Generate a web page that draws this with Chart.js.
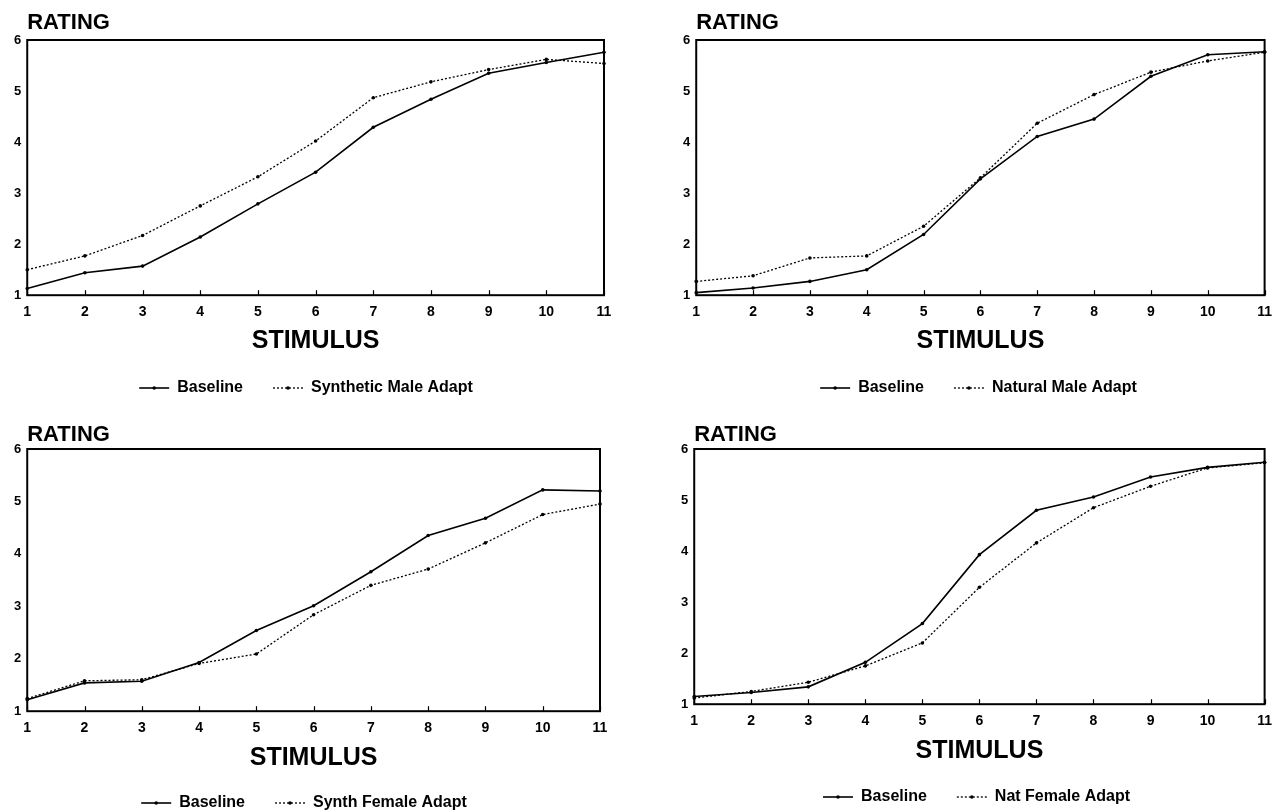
<!DOCTYPE html>
<html>
<head>
<meta charset="utf-8">
<script src="https://cdn.jsdelivr.net/npm/chart.js@4.4.1/dist/chart.umd.min.js"></script>
<style>
  html, body { margin: 0; padding: 0; background: #fff; }
  body { width: 1281px; height: 810px; position: relative; overflow: hidden; }
  .panel { position: absolute; }
</style>
</head>
<body>
<div class="panel" style="left:0;top:0;width:640px;height:405px"><canvas id="chartSynMale"></canvas></div>
<div class="panel" style="left:669px;top:0;width:612px;height:405px"><canvas id="chartNatMale"></canvas></div>
<div class="panel" style="left:0;top:405px;width:640px;height:405px"><canvas id="chartSynFemale"></canvas></div>
<div class="panel" style="left:669px;top:405px;width:612px;height:405px"><canvas id="chartNatFemale"></canvas></div>
<script>
// ===== data =====
const stimulus = [1, 2, 3, 4, 5, 6, 7, 8, 9, 10, 11];
const ratingTicks = [1, 2, 3, 4, 5, 6];

const synMaleBase  = [1.13, 1.44, 1.57, 2.14, 2.79, 3.41, 4.29, 4.84, 5.35, 5.56, 5.76];
const synMaleAdapt = [1.50, 1.77, 2.17, 2.75, 3.32, 4.02, 4.87, 5.18, 5.42, 5.62, 5.54];

const natMaleBase  = [1.05, 1.14, 1.27, 1.50, 2.19, 3.28, 4.11, 4.45, 5.29, 5.71, 5.77];
const natMaleAdapt = [1.27, 1.38, 1.73, 1.77, 2.35, 3.30, 4.37, 4.93, 5.37, 5.59, 5.76];

const synFemaleBase  = [1.22, 1.54, 1.57, 1.93, 2.54, 3.01, 3.66, 4.35, 4.68, 5.22, 5.20];
const synFemaleAdapt = [1.24, 1.58, 1.60, 1.91, 2.09, 2.84, 3.40, 3.71, 4.21, 4.75, 4.95];

const natFemaleBase  = [1.15, 1.23, 1.34, 1.82, 2.58, 3.93, 4.80, 5.06, 5.45, 5.64, 5.74];
const natFemaleAdapt = [1.12, 1.25, 1.43, 1.75, 2.20, 3.29, 4.16, 4.85, 5.27, 5.63, 5.73];

const FONT = "'Liberation Sans', Arial, Helvetica, sans-serif";

Chart.defaults.font.family = FONT;
Chart.defaults.font.weight = 'bold';
Chart.defaults.color = '#000';
Chart.defaults.animation = false;

// frame round the plot, small ticks on the bottom edge, RATING label, legend dots
const framePlugin = {
    id: 'frame',
    afterDraw(chart, args, opts) {
        const { ctx, chartArea: a, scales } = chart;
        ctx.save();
        ctx.strokeStyle = '#000';
        ctx.lineWidth = 2;
        ctx.strokeRect(a.left, a.top, a.right - a.left, a.bottom - a.top);
        ctx.lineWidth = 1.2;
        stimulus.forEach((s, i) => {
            const px = Math.round(scales.x.getPixelForValue(i)) + 0.5;
            ctx.beginPath();
            ctx.moveTo(px, a.bottom);
            ctx.lineTo(px, a.bottom - 5);
            ctx.stroke();
        });
        ctx.fillStyle = '#000';
        ctx.font = 'bold 22px ' + FONT;
        ctx.textBaseline = 'middle';
        ctx.textAlign = 'left';
        ctx.fillText('RATING', a.left, a.top - opts.ratingGap);

        // little marker in the middle of each legend sample line
        (chart.legend.legendHitBoxes || []).forEach(hb => {
            ctx.beginPath();
            ctx.arc(hb.left + 15, hb.top + hb.height / 2, 1.8, 0, Math.PI * 2);
            ctx.fill();
        });
        ctx.restore();
    }
};

function createPanel(canvasId, adaptLabel, baseVals, adaptVals, pad, titlePad) {
    const ctx = document.getElementById(canvasId);
    return new Chart(ctx, {
        type: 'line',
        data: {
            labels: stimulus,
            datasets: [{
                label: 'Baseline',
                data: baseVals,
                borderColor: '#000',
                backgroundColor: '#000',
                borderWidth: 1.6,
                pointRadius: 1.8,
                pointBorderWidth: 0,
                tension: 0
            }, {
                label: adaptLabel,
                data: adaptVals,
                borderColor: '#000',
                backgroundColor: '#000',
                borderWidth: 1.3,
                borderDash: [2, 2],
                pointRadius: 1.8,
                pointBorderWidth: 0,
                tension: 0
            }]
        },
        options: {
            responsive: true,
            maintainAspectRatio: false,
            layout: { padding: pad },
            plugins: {
                legend: {
                    position: 'bottom',
                    labels: {
                        usePointStyle: true,
                        pointStyle: 'line',
                        pointStyleWidth: 30,
                        padding: 30,
                        font: { size: 16, weight: 'bold' },
                        color: '#000',
                        generateLabels: chart => chart.data.datasets.map((ds, i) => ({
                            text: ds.label,
                            fillStyle: '#000',
                            strokeStyle: '#000',
                            lineWidth: ds.borderWidth,
                            lineDash: ds.borderDash || [],
                            pointStyle: 'line',
                            hidden: false,
                            datasetIndex: i
                        }))
                    }
                },
                tooltip: { enabled: false },
                frame: { ratingGap: pad.ratingGap }
            },
            scales: {
                x: {
                    grid: { display: false, drawTicks: false },
                    border: { display: false },
                    ticks: { font: { size: 14, weight: 'bold' }, padding: 9, maxRotation: 0, autoSkip: false },
                    title: {
                        display: true,
                        text: 'STIMULUS',
                        font: { size: 25, weight: 'bold' },
                        padding: titlePad
                    }
                },
                y: {
                    min: 1,
                    max: 6,
                    afterBuildTicks: scale => { scale.ticks = ratingTicks.map(v => ({ value: v })); },
                    grid: { display: false, drawTicks: false },
                    border: { display: false },
                    ticks: { font: { size: 13, weight: 'bold' }, padding: 6 }
                }
            }
        },
        plugins: [framePlugin]
    });
}

createPanel('chartSynMale', 'Synthetic Male Adapt', synMaleBase, synMaleAdapt,
    { top: 40, left: 8, right: 36, bottom: -1, ratingGap: 17 }, { top: -4, bottom: -6 });
createPanel('chartNatMale', 'Natural Male Adapt', natMaleBase, natMaleAdapt,
    { top: 40, left: 8, right: 1, bottom: -1, ratingGap: 17 }, { top: -4, bottom: -6 });
createPanel('chartSynFemale', 'Synth Female Adapt', synFemaleBase, synFemaleAdapt,
    { top: 44, left: 8, right: 40, bottom: -11, ratingGap: 14 }, { top: -3, bottom: -8 });
createPanel('chartNatFemale', 'Nat Female Adapt', natFemaleBase, natFemaleAdapt,
    { top: 44, left: 6, right: 3, bottom: -5, ratingGap: 14 }, { top: -3, bottom: -7 });
</script>
</body>
</html>
